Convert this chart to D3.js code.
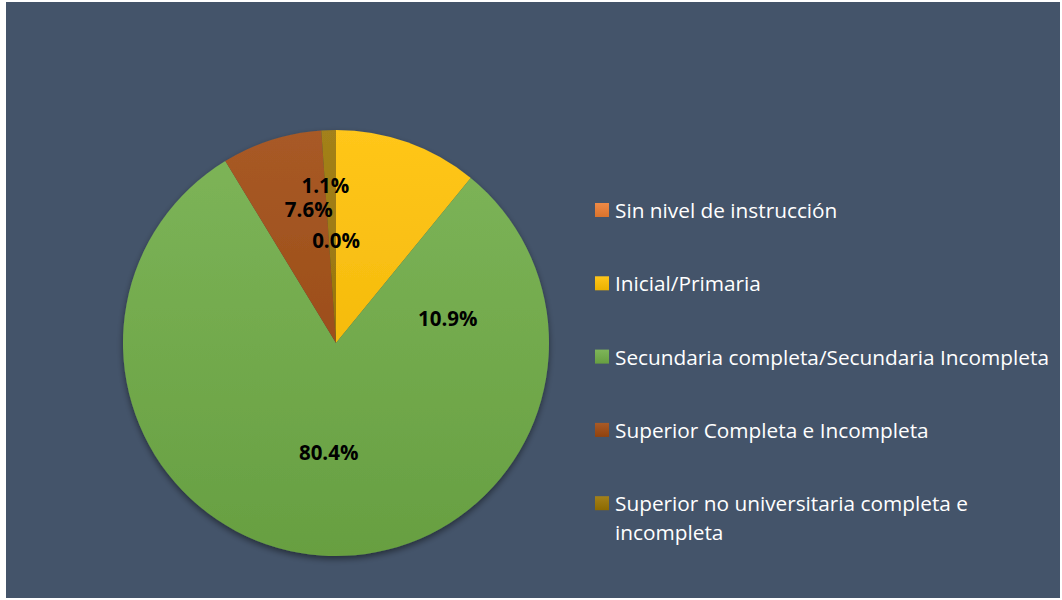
<!DOCTYPE html>
<html>
<head>
<meta charset="utf-8">
<script src="https://cdn.jsdelivr.net/npm/d3@7"></script>
<style>
    html, body { margin: 0; padding: 0; background: #fff; }
    #chart { width: 1062px; height: 600px; }
</style>
</head>
<body>
<div id="chart"></div>
<script>
// data
const categories = [
    'Sin nivel de instrucción',
    'Inicial/Primaria',
    'Secundaria completa/Secundaria Incompleta',
    'Superior Completa e Incompleta',
    'Superior no universitaria completa e incompleta'
];
const values = [0.0, 10.9, 80.4, 7.6, 1.1];
const labels = ['0.0%', '10.9%', '80.4%', '7.6%', '1.1%'];
const colors = ['#ED7D31', '#FFC000', '#70AD47', '#9E480E', '#997300'];

// label nudges from arc centroid (Excel best fit placement)
const labelNudge = [[0, 3], [76, 75], [0, 3], [5, -33], [-7, -52]];

const width = 1062;
const height = 600;
const fontFamily = '"Open Sans", Lato, sans-serif';

const svg = d3.select('#chart')
    .append('svg')
    .attr('width', width)
    .attr('height', height);

svg.append('rect')
    .attr('x', 6)
    .attr('y', 2)
    .attr('width', width - 8)
    .attr('height', height - 4)
    .attr('fill', '#44546A');

const cx = 336, cy = 343, radius = 213;

const defs = svg.append('defs');

const shadow = defs.append('filter')
    .attr('id', 'shadow')
    .attr('x', '-10%').attr('y', '-10%')
    .attr('width', '120%').attr('height', '125%');
shadow.append('feDropShadow')
    .attr('dx', 0)
    .attr('dy', 3)
    .attr('stdDeviation', 3)
    .attr('flood-color', '#000')
    .attr('flood-opacity', 0.45);

// gradient per slice: lighter on top, a bit darker at the bottom
const addGradient = (id, c, units, y1, y2) => {
    const grad = defs.append('linearGradient')
        .attr('id', id)
        .attr('gradientUnits', units)
        .attr('x1', 0).attr('x2', 0)
        .attr('y1', y1).attr('y2', y2);
    grad.append('stop').attr('offset', '0%')
        .attr('stop-color', d3.interpolateRgb(c, '#ffffff')(0.1));
    grad.append('stop').attr('offset', '100%')
        .attr('stop-color', d3.interpolateRgb(c, '#000000')(0.08));
};

colors.forEach((c, i) => {
    addGradient('grad' + i, c, 'userSpaceOnUse', -radius, radius);
    addGradient('leg' + i, c, 'objectBoundingBox', 0, 1);
});

const pie = d3.pie()
    .sort(null)
    .value(d => d);

const arcs = pie(values);

const arc = d3.arc()
    .innerRadius(0)
    .outerRadius(radius);

const g = svg.append('g')
    .attr('transform', `translate(${cx},${cy})`);

g.append('g')
    .attr('filter', 'url(#shadow)')
    .selectAll('path')
    .data(arcs)
    .join('path')
    .attr('d', arc)
    .attr('fill', (d, i) => `url(#grad${i})`)
    .attr('stroke', 'none');

g.selectAll('text.label')
    .data(arcs)
    .join('text')
    .attr('class', 'label')
    .attr('x', (d, i) => arc.centroid(d)[0] + labelNudge[i][0])
    .attr('y', (d, i) => arc.centroid(d)[1] + labelNudge[i][1])
    .attr('text-anchor', 'middle')
    .attr('dominant-baseline', 'central')
    .style('font-family', fontFamily)
    .style('font-weight', 'bold')
    .style('font-size', '20.5px')
    .style('fill', '#000')
    .text((d, i) => labels[i]);

// legend
const legend = svg.append('g')
    .attr('transform', 'translate(595, 210)');

const rowStep = 73.3;

const rows = legend.selectAll('g')
    .data(categories)
    .join('g')
    .attr('transform', (d, i) => `translate(0, ${i * rowStep})`);

rows.append('rect')
    .attr('x', 0)
    .attr('y', -7)
    .attr('width', 14)
    .attr('height', 14)
    .attr('fill', (d, i) => `url(#leg${i})`);

const legendText = rows.append('text')
    .attr('x', 20)
    .attr('y', 0)
    .attr('dominant-baseline', 'central')
    .style('font-family', fontFamily)
    .style('font-size', '20.8px')
    .style('fill', '#fff');

legendText.each(function(d) {
    const t = d3.select(this);
    if (d.length > 42) {
        t.append('tspan').attr('x', 20).attr('dy', 0).text('Superior no universitaria completa e');
        t.append('tspan').attr('x', 20).attr('dy', 29).text('incompleta');
    } else {
        t.text(d);
    }
});
</script>
</body>
</html>
